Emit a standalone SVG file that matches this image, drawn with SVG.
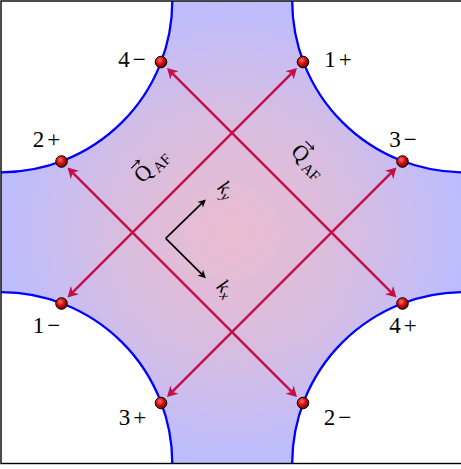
<svg xmlns="http://www.w3.org/2000/svg" width="461" height="469" viewBox="0 0 461 469">
<style>
.arc{fill:none;stroke:#0000ff;stroke-width:2.3}
.q{fill:none;stroke:#c4104a;stroke-width:2.5}
.ax{fill:none;stroke:#000;stroke-width:1.7}
.dot{fill:url(#ball);stroke:#000;stroke-width:1}
.lbl{font-family:"Liberation Serif",serif;font-size:23px;fill:#000}
.math{font-family:"Liberation Serif",serif;fill:#000}
</style>
<defs>
<radialGradient id="bg" gradientUnits="userSpaceOnUse" cx="232" cy="232" r="230">
<stop offset="0" stop-color="#ebbcd0"/>
<stop offset="0.5" stop-color="#d8bde0"/>
<stop offset="1" stop-color="#bdbdfe"/>
</radialGradient>
<radialGradient id="ball" cx="0.4" cy="0.35" r="0.65">
<stop offset="0" stop-color="#ff7060"/>
<stop offset="0.5" stop-color="#d81010"/>
<stop offset="1" stop-color="#700000"/>
</radialGradient>
<marker id="hq" markerUnits="userSpaceOnUse" markerWidth="14" markerHeight="12" refX="5" refY="0" orient="auto-start-reverse" overflow="visible">
<path d="M10.5,0 L0,-5.8 L3,0 L0,5.8 Z" fill="#c4104a"/>
</marker>
<marker id="hk" markerUnits="userSpaceOnUse" markerWidth="12" markerHeight="10" refX="4" refY="0" orient="auto" overflow="visible">
<path d="M8,0 L0,-4 L2.5,0 L0,4 Z" fill="#000"/>
</marker>
</defs>
<path id="region" d="M172.3,1 L292.2,1 A171.3,171.3 0 0 0 463.5,172.3 L463.5,292.2 A171.3,171.3 0 0 0 292.2,463.5 L172.3,463.5 A171.3,171.3 0 0 0 1,292.2 L1,172.3 A171.3,171.3 0 0 0 172.3,1 Z" fill="url(#bg)"/>
<g id="fermi-surface">
<path class="arc" d="M172.3,1 A171.3,171.3 0 0 1 1,172.3"/>
<path class="arc" d="M292.2,1 A171.3,171.3 0 0 0 463.5,172.3"/>
<path class="arc" d="M463.5,292.2 A171.3,171.3 0 0 0 292.2,463.5"/>
<path class="arc" d="M172.3,463.5 A171.3,171.3 0 0 0 1,292.2"/>
</g>
<g id="connectors">
<line class="q" x1="71.4" y1="293.6" x2="293.1" y2="71.9" marker-start="url(#hq)" marker-end="url(#hq)"/>
<line class="q" x1="71.4" y1="171.4" x2="293.1" y2="393.1" marker-start="url(#hq)" marker-end="url(#hq)"/>
<line class="q" x1="170.9" y1="393.1" x2="392.6" y2="171.4" marker-start="url(#hq)" marker-end="url(#hq)"/>
<line class="q" x1="170.9" y1="71.9" x2="392.6" y2="293.6" marker-start="url(#hq)" marker-end="url(#hq)"/>
<line class="ax" x1="165.7" y1="238.3" x2="203" y2="202.2" marker-end="url(#hk)"/>
<line class="ax" x1="165.7" y1="238.3" x2="203" y2="275.4" marker-end="url(#hk)"/>
</g>
<g id="p4m"><circle class="dot" cx="161" cy="62" r="5.8"/><text class="lbl" x="132" y="67" text-anchor="middle">4<tspan dx="3">−</tspan></text></g>
<g id="p1p"><circle class="dot" cx="303" cy="62" r="5.8"/><text class="lbl" x="338" y="67" text-anchor="middle">1<tspan dx="3">+</tspan></text></g>
<g id="p2p"><circle class="dot" cx="61.5" cy="161.5" r="5.8"/><text class="lbl" x="46.5" y="146.5" text-anchor="middle">2<tspan dx="3">+</tspan></text></g>
<g id="p3m"><circle class="dot" cx="402.5" cy="161.5" r="5.8"/><text class="lbl" x="403" y="146.5" text-anchor="middle">3<tspan dx="3">−</tspan></text></g>
<g id="p1m"><circle class="dot" cx="61.5" cy="303.5" r="5.8"/><text class="lbl" x="46.5" y="333" text-anchor="middle">1<tspan dx="3">−</tspan></text></g>
<g id="p4p"><circle class="dot" cx="402.5" cy="303.5" r="5.8"/><text class="lbl" x="403" y="333" text-anchor="middle">4<tspan dx="3">+</tspan></text></g>
<g id="p3p"><circle class="dot" cx="161" cy="403" r="5.8"/><text class="lbl" x="132.5" y="425" text-anchor="middle">3<tspan dx="3">+</tspan></text></g>
<g id="p2m"><circle class="dot" cx="303" cy="403" r="5.8"/><text class="lbl" x="337.5" y="425" text-anchor="middle">2<tspan dx="3">−</tspan></text></g>
<g id="qaf-left" transform="translate(142.5,184) rotate(-45)">
<text class="math" font-size="22">Q<tspan font-size="15" dx="3" dy="4">AF</tspan></text>
<path d="M3,-19 L14,-19 M11.2,-21.4 L14.3,-19 L11.2,-16.6" fill="none" stroke="#000" stroke-width="1.1"/>
</g>
<g id="qaf-right" transform="translate(290,152.5) rotate(45)">
<text class="math" font-size="22">Q<tspan font-size="15" dx="3" dy="4">AF</tspan></text>
<path d="M3,-19 L14,-19 M11.2,-21.4 L14.3,-19 L11.2,-16.6" fill="none" stroke="#000" stroke-width="1.1"/>
</g>
<g id="ky" transform="translate(216.5,188.5) rotate(45)">
<text class="math" font-size="20" font-style="italic">k<tspan font-size="14" dy="4">y</tspan></text>
</g>
<g id="kx" transform="translate(215.5,287.5) rotate(45)">
<text class="math" font-size="20" font-style="italic">k<tspan font-size="14" dy="4">x</tspan></text>
</g>
<rect id="frame" x="1" y="1" width="462.5" height="462.5" fill="none" stroke="#000" stroke-width="1.4"/>
</svg>
